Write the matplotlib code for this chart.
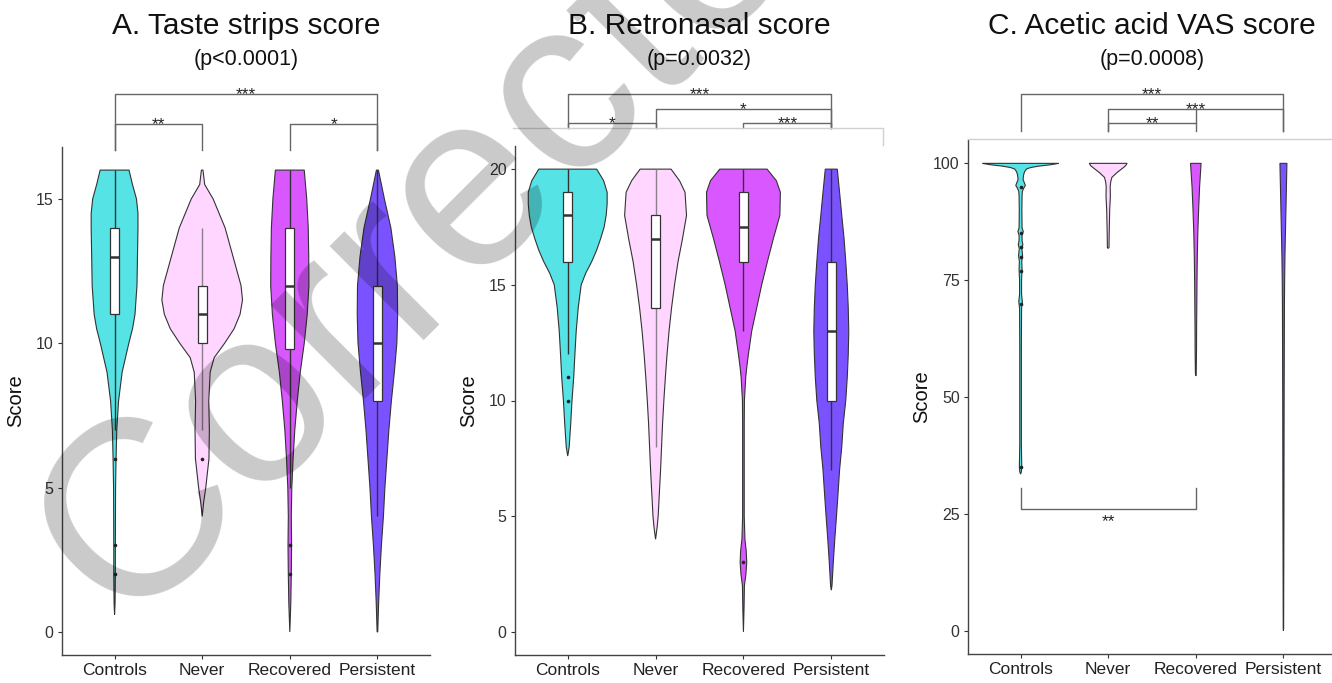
import numpy as np
import matplotlib
matplotlib.use("Agg")
import matplotlib.pyplot as plt
from matplotlib.lines import Line2D
from matplotlib.transforms import blended_transform_factory

plt.rcParams['font.family'] = ['Liberation Sans', 'DejaVu Sans']

# ---------------- data ----------------
groups = ["Controls", "Never", "Recovered", "Persistent"]
colors = ["#55E3E6", "#FFD6FF", "#D957FF", "#7B52FF"]

titles = ["A. Taste strips score", "B. Retronasal score", "C. Acetic acid VAS score"]
pvals = ["(p<0.0001)", "(p=0.0032)", "(p=0.0008)"]
ylabel = "Score"

# Panel A - taste strips: violin outline (score level -> half width, in 1/88 category units)
taste_levels = {
    "Controls":   [0.6, 1, 2, 3, 4, 5, 6, 7, 8, 9, 10, 10.5, 11, 12, 13, 14, 14.5, 15, 15.5, 16],
    "Never":      [4, 4.5, 5, 6, 7, 8, 9, 9.5, 10, 10.5, 11, 11.5, 12, 13, 14, 15, 15.5, 16],
    "Recovered":  [0, 1, 2, 3, 4, 5, 6, 7, 8, 9, 10, 11, 12, 13, 14, 15, 16],
    "Persistent": [0, 1, 2, 3, 4, 5, 6, 7, 8, 9, 10, 11, 12, 13, 14, 15, 15.5, 16],
}
taste_widths = {
    "Controls":   [0, 0.5, 0.8, 0.8, 0.9, 1.0, 1.5, 2.2, 4.0, 7.6, 14.3, 18, 20.5, 22.5, 23, 23.5, 23.5, 22, 18, 14.5],
    "Never":      [0, 1.5, 3.6, 6.8, 7.2, 6.6, 8, 12, 22.5, 32, 38, 40.5, 39, 31, 23, 11, 2.5, 0.8],
    "Recovered":  [0, 1, 1.5, 1.8, 1.5, 2, 3.3, 5, 7.5, 10.5, 14.5, 17.5, 19.2, 19, 18.5, 17, 14.5],
    "Persistent": [0.3, 1.2, 2.4, 4, 6, 7.5, 9.5, 11.5, 14, 17, 19.5, 20.3, 20, 17.5, 13.5, 7, 4, 1],
}
taste_q1 = [11, 10, 9.8, 8]
taste_med = [13, 11, 12, 10]
taste_q3 = [14, 12, 14, 12]
taste_wlo = [7, 7, 5, 4]
taste_whi = [16, 14, 16, 16]
taste_out = [[6, 3, 2], [6], [3, 2], []]

# Panel B - retronasal
retro_levels = {
    "Controls":   [7.6, 8, 9, 10, 11, 12, 13, 14, 15, 15.5, 16, 16.5, 17, 17.5, 18, 18.5, 19, 19.5, 20],
    "Never":      [4, 4.5, 5, 6, 7, 8, 9, 10, 11, 12, 13, 14, 15, 16, 17, 18, 19, 19.5, 20],
    "Recovered":  [0, 1, 2, 2.5, 3, 3.5, 4, 5, 9, 10, 11, 11.5, 12, 13, 14, 15, 16, 17, 18, 19, 19.5, 20],
    "Persistent": [1.8, 2, 3, 4, 5, 6, 7, 8, 9, 10, 11, 12, 13, 14, 15, 16, 17, 18, 19, 20],
}
retro_widths = {
    "Controls":   [0, 1.5, 3, 4.3, 6, 7.2, 8.5, 10.5, 13.5, 18, 24, 29, 33, 36.5, 38.5, 39.5, 39.5, 36, 29],
    "Never":      [0, 1.5, 2.6, 3.8, 5, 6, 7, 8.3, 9.8, 11.5, 13.5, 16, 19, 22.5, 27, 31, 29.5, 24, 15.5],
    "Recovered":  [0, 0.6, 1, 2.5, 3.3, 2.8, 1.5, 0.8, 0.8, 1, 2.3, 3.5, 5, 8.3, 13.3, 18.3, 24, 30, 36.5, 37, 33, 23.7],
    "Persistent": [0, 0.7, 2, 3.5, 5.2, 6.8, 8.3, 10.5, 12, 14.5, 16, 17, 17.5, 17, 16, 14.5, 12.8, 10.5, 8.3, 6],
}
retro_q1 = [16, 14, 16, 10]
retro_med = [18, 17, 17.5, 13]
retro_q3 = [19, 18, 19, 16]
retro_wlo = [12, 8, 13, 7]
retro_whi = [20, 20, 20, 20]
retro_out = [[11, 10], [], [3], []]

# Panel C - acetic acid VAS
vas_levels = {
    "Controls":   [33.5, 34, 35, 40, 50, 60, 69, 70.4, 72, 75, 77.3, 79, 80.3, 81.8, 82.6, 83.5, 84.6, 85.4, 86.2,
                   90, 93, 94, 94.6, 95.3, 96, 96.5, 97.5, 98.2, 98.8, 99.1, 99.4, 99.7, 100],
    "Never":      [81.8, 82, 85, 90, 93, 95, 96, 97, 98, 99, 99.5, 100],
    "Recovered":  [54.5, 55, 60, 65, 70, 75, 80, 85, 90, 95, 100],
    "Persistent": [0, 0.5, 25, 50, 70, 75, 80, 85, 90, 95, 100],
}
vas_widths = {
    "Controls":   [0, 0.8, 1.2, 0.8, 0.8, 0.8, 1.0, 1.8, 1.0, 1.0, 1.5, 1.2, 2.0, 1.3, 2.3, 1.5, 1.5, 2.7, 1.5,
                   1.3, 1.5, 1.8, 3.0, 4.8, 3.5, 2.5, 3.0, 4.0, 6.0, 10, 18, 30, 38.5],
    "Never":      [0, 0.8, 1.0, 1.5, 2.2, 2.0, 2.5, 3.7, 8.7, 14.7, 17.5, 19],
    "Recovered":  [0, 0.4, 0.7, 0.8, 1.0, 1.2, 1.5, 2.0, 2.8, 3.8, 5.3],
    "Persistent": [0, 0.2, 0.5, 0.7, 1.0, 1.2, 1.5, 2.0, 2.5, 3.0, 3.5],
}
vas_q1 = [100, 100, 100, 100]
vas_med = [100, 100, 100, 100]
vas_q3 = [100, 100, 100, 100]
vas_wlo = [100, 100, 100, 100]
vas_whi = [100, 100, 100, 100]
vas_out = [[95, 85, 82, 80, 77, 70, 35], [], [], []]

panels = [
    dict(levels=taste_levels, widths=taste_widths, q1=taste_q1, med=taste_med, q3=taste_q3,
         wlo=taste_wlo, whi=taste_whi, out=taste_out, ymax=16, yticks=[0, 5, 10, 15]),
    dict(levels=retro_levels, widths=retro_widths, q1=retro_q1, med=retro_med, q3=retro_q3,
         wlo=retro_wlo, whi=retro_whi, out=retro_out, ymax=20, yticks=[0, 5, 10, 15, 20]),
    dict(levels=vas_levels, widths=vas_widths, q1=vas_q1, med=vas_med, q3=vas_q3,
         wlo=vas_wlo, whi=vas_whi, out=vas_out, ymax=100, yticks=[0, 25, 50, 75, 100]),
]

# significance brackets: (group_i, group_j, label, bar y px, tick end y px)
brackets = [
    [(0, 3, "***", 94, 150), (0, 1, "**", 124, 150), (2, 3, "*", 124, 150)],
    [(0, 3, "***", 94, 127.5), (1, 3, "*", 109, 127.5), (0, 1, "*", 123, 127.5), (2, 3, "***", 123, 127.5)],
    [(0, 3, "***", 94, 131), (1, 3, "***", 109, 131), (1, 2, "**", 123, 131)],
]

# ---------------- figure ----------------
W, H = 1332, 683
fig = plt.figure(figsize=(W / 100, H / 100), dpi=100)

axes_px = [(62, 147, 430, 655), (515, 146, 884, 655), (968, 140, 1336, 654)]
PX_PER_UNIT = 88.0
line_col = "#333333"

for k, (p, (l, t, r, b)) in enumerate(zip(panels, axes_px)):
    ax = fig.add_axes([l / W, 1 - b / H, (r - l) / W, (b - t) / H])
    ax.set_facecolor("none")
    for i, g in enumerate(groups):
        pos = i + 1
        ys = np.array(p["levels"][g], float)
        ws = np.array(p["widths"][g], float) / PX_PER_UNIT
        xs = np.concatenate([pos - ws, (pos + ws)[::-1]])
        yy = np.concatenate([ys, ys[::-1]])
        ax.fill(xs, yy, facecolor=colors[i], edgecolor=line_col, lw=0.8, zorder=2)
        wcol = "#8c7d8c" if g == "Never" else line_col
        if p["q3"][i] > p["q1"][i]:
            ax.plot([pos, pos], [p["wlo"][i], p["whi"][i]], color=wcol, lw=1.0, zorder=3,
                    solid_capstyle="butt")
            bw = 0.052
            ax.add_patch(plt.Rectangle((pos - bw, p["q1"][i]), 2 * bw, p["q3"][i] - p["q1"][i],
                                       facecolor="white", edgecolor=line_col, lw=0.9, zorder=4))
            ax.plot([pos - bw, pos + bw], [p["med"][i]] * 2, color=line_col, lw=1.8, zorder=5,
                    solid_capstyle="butt")
        if p["out"][i]:
            ax.plot([pos] * len(p["out"][i]), p["out"][i], "o", ms=2.6, color="#222222",
                    mew=0, zorder=6)
    ymax = p["ymax"]
    ax.set_ylim(-0.05 * ymax, 1.05 * ymax)
    ax.set_xlim(0.4, 4.6)
    ax.set_xticks(range(1, 5))
    ax.set_xticklabels(groups, fontsize=12.5, color="#222222")
    ax.set_yticks(p["yticks"])
    ax.set_yticklabels([str(v) for v in p["yticks"]], fontsize=11.5, color="#333333")
    ax.tick_params(axis="both", length=3, width=0.8, color=line_col, pad=3)
    for s in ["top", "right"]:
        ax.spines[s].set_visible(False)
    for s in ["left", "bottom"]:
        ax.spines[s].set_color("#444444")
        ax.spines[s].set_linewidth(1.0)
    ax.set_ylabel(ylabel, fontsize=14.5, color="#111111")
    ax.yaxis.set_label_coords(-0.10, 0.5)

    cx = (l + r) / 2 / W
    if k == 2:
        cx = (l + 1336) / 2 / W
    fig.text(cx, 1 - 26 / H, titles[k], fontsize=21.5, ha="center", va="center", color="#111111")
    fig.text(cx, 1 - 59 / H, pvals[k], fontsize=15.5, ha="center", va="center", color="#111111")

    tr = blended_transform_factory(ax.transData, fig.transFigure)
    bcol = "#666666"
    for (g1, g2, lab, ybar, yend) in brackets[k]:
        x1, x2 = g1 + 1, g2 + 1
        yb, ye = 1 - ybar / H, 1 - yend / H
        fig.add_artist(Line2D([x1, x1, x2, x2], [ye, yb, yb, ye], transform=tr, color=bcol,
                              lw=1.0, zorder=1))
        ax.annotate(lab, xy=((x1 + x2) / 2, yb), xycoords=tr, xytext=(0, -3.6),
                    textcoords="offset points", ha="center", va="baseline", fontsize=12.5,
                    color="#222222", annotation_clip=False)
    if k == 2:
        # extra connector at Recovered and bottom bracket Controls vs Recovered
        fig.add_artist(Line2D([3, 3], [1 - 109 / H, 1 - 123 / H], transform=tr, color=bcol,
                              lw=1.0, zorder=1))
        ax.plot([1, 1, 3, 3], [30.5, 26, 26, 30.5], color=bcol, lw=1.0, zorder=3)
        ax.annotate("**", xy=(2, 26), xycoords="data", xytext=(0, -12.5),
                    textcoords="offset points", ha="center", va="baseline", fontsize=12.5,
                    color="#222222")

# light frame edges of pasted panels
fig.add_artist(Line2D([513 / W, 883 / W, 883 / W], [1 - 127.5 / H, 1 - 127.5 / H, 1 - 145 / H],
                      transform=fig.transFigure, color="#d0d0d0", lw=1.0, zorder=2))
fig.add_artist(Line2D([968 / W, 1.0], [1 - 138.5 / H, 1 - 138.5 / H],
                      transform=fig.transFigure, color="#d0d0d0", lw=1.0, zorder=2))

# watermark
fig.text(0.0931, 0.0805, "Corrected", rotation=45, rotation_mode="anchor", ha="left",
         va="baseline", fontsize=180, color=(0, 0, 0, 0.21), zorder=100)

fig.savefig("out.png", dpi=100)
